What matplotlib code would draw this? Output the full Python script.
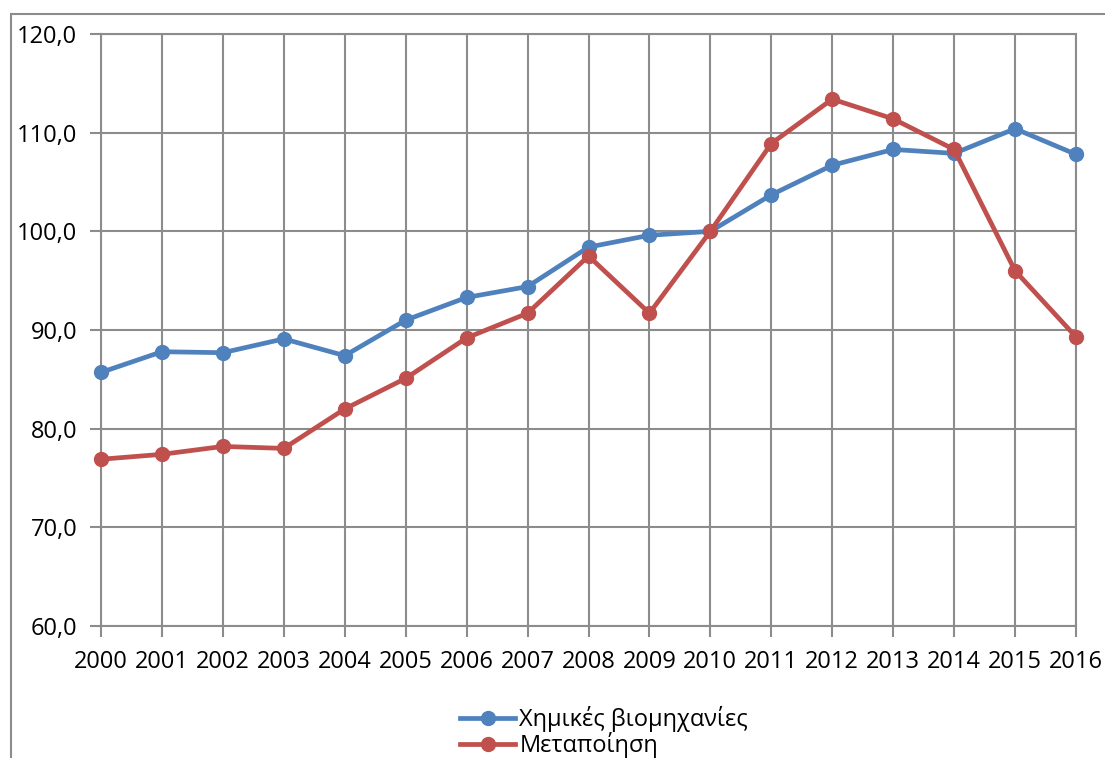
import matplotlib
matplotlib.use("Agg")
import matplotlib.pyplot as plt
from matplotlib.patches import Rectangle
from matplotlib.ticker import FuncFormatter

years = list(range(2000, 2017))
chem = [85.7, 87.8, 87.7, 89.1, 87.4, 91.0, 93.3, 94.4, 98.4, 99.6, 100.0,
        103.7, 106.7, 108.3, 107.9, 110.4, 107.8]
manuf = [76.9, 77.4, 78.2, 78.0, 82.0, 85.1, 89.2, 91.7, 97.5, 91.7, 100.0,
         108.9, 113.4, 111.4, 108.3, 96.0, 89.3]
labels = ['Χημικές βιομηχανίες', 'Μεταποίηση']
colors = ['#4F81BD', '#C0504D']

plt.rcParams['font.family'] = ['Open Sans', 'DejaVu Sans']
W, H = 1105, 758
fig = plt.figure(figsize=(W / 100, H / 100), dpi=100)
ax = fig.add_axes([101 / W, 1 - 626 / H, (1076 - 101) / W, (626 - 34) / H])

# outer chart frame (runs off the right/bottom edge)
fig.patches.append(Rectangle((11 / W, -0.1), 1.2, 1 - 14 / H + 0.1, transform=fig.transFigure,
                             fill=False, ec='#8c8c8c', lw=1.5))

for y, c, lab in zip([chem, manuf], colors, labels):
    ax.plot(years, y, '-o', color=c, lw=3.4, ms=10, label=lab, clip_on=False, zorder=3)

ax.set_xlim(2000, 2016)
ax.set_ylim(60, 120)
ax.set_xticks(years)
ax.set_yticks(range(60, 121, 10))
ax.yaxis.set_major_formatter(FuncFormatter(lambda v, p: f'{v:.1f}'.replace('.', ',')))
ax.grid(True, color='#8c8c8c', lw=1.5)
ax.set_axisbelow(True)
for s in ax.spines.values():
    s.set_color('#8c8c8c'); s.set_linewidth(1.5)
ax.tick_params(axis='both', colors='#8c8c8c', length=8, width=1.5, labelsize=17, labelcolor='black')
ax.tick_params(axis='x', pad=9)
ax.tick_params(axis='y', pad=9)

fig.legend(loc='upper left', bbox_to_anchor=(451 / W, 1 - 697 / H), frameon=False,
           fontsize=17, handlelength=2.3, handletextpad=0.2, labelspacing=0.0,
           borderaxespad=0)

fig.savefig('out.png', dpi=100)
